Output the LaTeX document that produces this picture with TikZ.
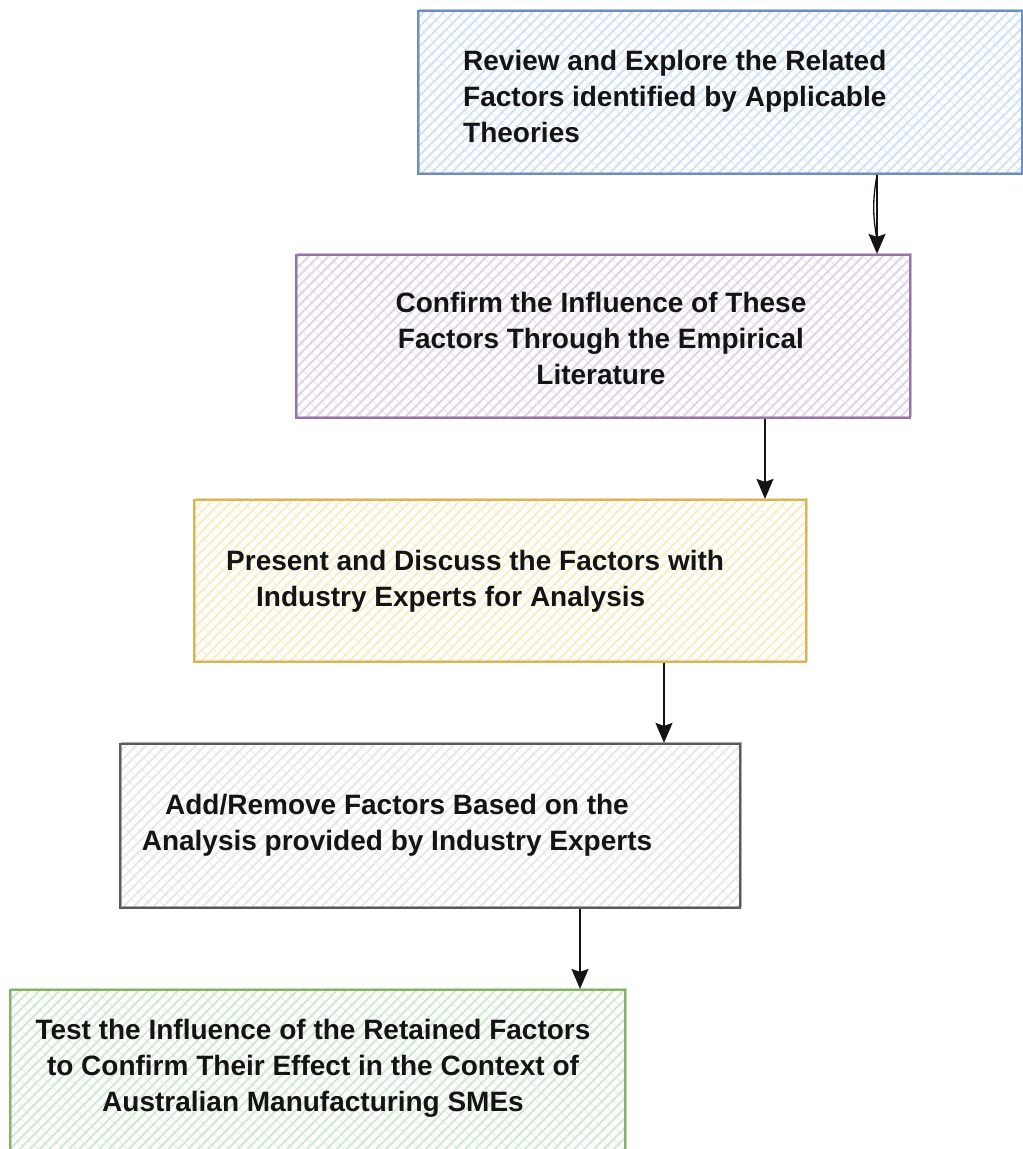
\documentclass[tikz,border=0pt]{standalone}
\usepackage{fontspec}
\setmainfont{Liberation Sans}
\usetikzlibrary{arrows.meta,patterns.meta,calc}

% sketch palette: border / hatch colours
\definecolor{blueline}{HTML}{6C8EBF}\definecolor{bluehatch}{HTML}{D3E1F5}
\definecolor{purpleline}{HTML}{9673A6}\definecolor{purplehatch}{HTML}{E0D4E8}
\definecolor{yellowline}{HTML}{D6B656}\definecolor{yellowhatch}{HTML}{F8EDC8}
\definecolor{grayline}{HTML}{5A5A5A}\definecolor{grayhatch}{HTML}{E8E8E8}
\definecolor{greenline}{HTML}{82B366}\definecolor{greenhatch}{HTML}{D3E8D0}
\definecolor{ink}{HTML}{141414}

\tikzset{
  x=1pt, y=-1pt,
  stepbox/.style n args={2}{
    draw=#1, line width=2.2pt, rectangle, inner sep=0pt,
    preaction={pattern={Lines[angle=-45,distance=9pt,line width=1.4pt]}, pattern color=#2!45},
    pattern={Lines[angle=45,distance=7pt,line width=2pt]}, pattern color=#2,
    postaction={draw=#1, line width=0.9pt, opacity=0.5, transform canvas={shift={(1.2pt,1.5pt)}}}
  },
  steptext/.style={inner sep=0pt, text=ink, font=\bfseries\fontsize{28pt}{36pt}\selectfont},
  flow/.style={draw=ink, line width=1.8pt, -{Stealth[length=20pt,width=17pt,inset=3pt]}},
  sketchline/.style={draw=ink, line width=1.3pt}
}

\begin{document}
\begin{tikzpicture}
\useasboundingbox (0,0) rectangle (1023,1149);

% boxes
\node[stepbox={blueline}{bluehatch}, minimum width=604pt, minimum height=163pt] (b1) at (720,92.5) {};
\node[stepbox={purpleline}{purplehatch}, minimum width=614pt, minimum height=163pt] (b2) at (603,336.5) {};
\node[stepbox={yellowline}{yellowhatch}, minimum width=612pt, minimum height=162pt] (b3) at (500,581) {};
\node[stepbox={grayline}{grayhatch}, minimum width=620pt, minimum height=164pt] (b4) at (430,826) {};
\node[stepbox={greenline}{greenhatch}, minimum width=615pt, minimum height=190pt] (b5) at (317.5,1085) {};

% texts
\node[steptext, align=left, anchor=west] (t1) at (463,96)
  {Review and Explore the Related\\Factors identified by Applicable\\Theories};
\node[steptext, align=center] (t2) at (601,338)
  {Confirm the Influence of These\\Factors Through the Empirical\\Literature};
\node[steptext, align=left, anchor=west] (t3) at (226,581)
  {Present and Discuss the Factors with\\\hspace*{30pt}Industry Experts for Analysis};
\node[steptext, align=center] (t4) at (397,825)
  {Add/Remove Factors Based on the\\Analysis provided by Industry Experts};
\node[steptext, align=center] (t5) at (313,1068)
  {Test the Influence of the Retained Factors\\to Confirm Their Effect in the Context of\\Australian Manufacturing SMEs};

% connector columns
\coordinate (c1) at (877,0);
\coordinate (c2) at (765,0);
\coordinate (c3) at (664,0);
\coordinate (c4) at (580,0);

% connectors
\draw[sketchline] (b1.south -| c1) to[bend right=10] ($(b2.north -| c1)+(0,-14)$);
\draw[flow] (b1.south -| c1) -- (b2.north -| c1);
\draw[flow] (b2.south -| c2) -- (b3.north -| c2);
\draw[flow] (b3.south -| c3) -- (b4.north -| c3);
\draw[flow] (b4.south -| c4) -- (b5.north -| c4);
\end{tikzpicture}
\end{document}
